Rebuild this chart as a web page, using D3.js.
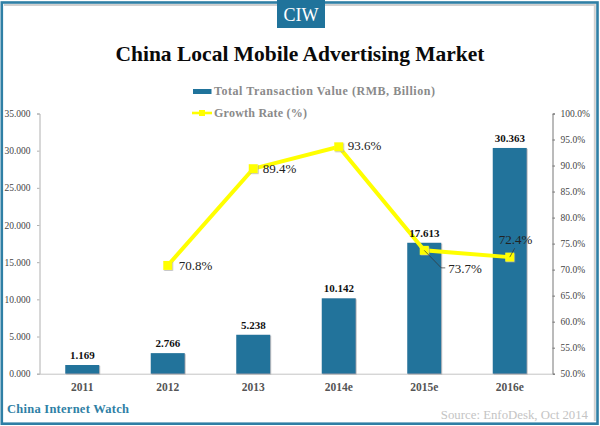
<!DOCTYPE html>
<html>
<head>
<meta charset="utf-8">
<script src="https://cdn.jsdelivr.net/npm/d3@7"></script>
<style>
html, body { margin: 0; padding: 0; background: #fff; }
svg { display: block; }
text { font-family: "Liberation Serif", serif; }
</style>
</head>
<body>
<svg id="chart" width="600" height="426"></svg>
<script>
const years = ['2011', '2012', '2013', '2014e', '2015e', '2016e'];
const transaction = [1.169, 2.766, 5.238, 10.142, 17.613, 30.363];
const growth = [null, 70.8, 89.4, 93.6, 73.7, 72.4];
const leftTicks = [0, 5, 10, 15, 20, 25, 30, 35];
const rightTicks = [50, 55, 60, 65, 70, 75, 80, 85, 90, 95, 100];

const teal = '#20739b';
const yellow = '#ffff00';
const svg = d3.select('#chart');

const x = d3.scaleBand().domain(years).range([39.5, 552.5]);
const yLeft = d3.scaleLinear().domain([0, 35]).range([373.7, 113.5]);
const yRight = d3.scaleLinear().domain([50, 100]).range([373.7, 113.5]);
const cx = d => x(d) + x.bandwidth() / 2;

const shadow = svg.append('defs').append('filter').attr('id', 'shadow')
    .attr('x', '-30%').attr('y', '-30%').attr('width', '160%').attr('height', '160%');
shadow.append('feDropShadow').attr('dx', 0.8).attr('dy', 0.8).attr('stdDeviation', 0.6)
    .attr('flood-color', '#999').attr('flood-opacity', 0.7);

// frame, with the soft grey edge inside top and right
svg.append('path').attr('d', d3.line()([[4, 5], [594.8, 5], [594.8, 421]]))
    .attr('fill', 'none').attr('stroke', '#d0d0d0').attr('stroke-width', 2);
svg.append('rect').attr('x', 1.8).attr('y', 2.5).attr('width', 595.7).attr('height', 421.2)
    .attr('fill', 'none').attr('stroke', '#2f7fa5').attr('stroke-width', 2.6);

// badge
svg.append('rect').attr('x', 277).attr('y', 0).attr('width', 48).attr('height', 28).attr('fill', teal);
svg.append('text').attr('x', 301).attr('y', 21).attr('text-anchor', 'middle')
    .attr('font-size', 18).attr('fill', '#fff').text('CIW');

svg.append('text').attr('x', 300).attr('y', 60.5).attr('text-anchor', 'middle')
    .attr('font-size', 21.5).attr('font-weight', 'bold').attr('fill', '#0a0a0a')
    .text('China Local Mobile Advertising Market');

// legend
svg.append('rect').attr('x', 193).attr('y', 89).attr('width', 18.5).attr('height', 5).attr('fill', teal);
svg.append('text').attr('x', 214).attr('y', 95).attr('font-size', 12).attr('font-weight', 'bold')
    .attr('textLength', 221).attr('fill', '#8a8a8a').text('Total Transaction Value (RMB, Billion)');
svg.append('line').attr('x1', 192).attr('x2', 212).attr('y1', 113).attr('y2', 113)
    .attr('stroke', yellow).attr('stroke-width', 2.6);
svg.append('rect').attr('x', 199).attr('y', 110).attr('width', 6).attr('height', 6).attr('fill', yellow);
svg.append('text').attr('x', 214).attr('y', 117).attr('font-size', 12).attr('font-weight', 'bold')
    .attr('textLength', 93).attr('fill', '#8a8a8a').text('Growth Rate (%)');

// axes
const styleAxis = (g, stroke) => {
    g.selectAll('.domain').attr('stroke', stroke);
    g.selectAll('.tick line').attr('stroke', stroke);
    g.selectAll('text').attr('font-size', 9.5).attr('fill', '#444').attr('font-family', '"Liberation Serif", serif');
};
svg.append('g').attr('transform', 'translate(39.5,0)')
    .call(d3.axisLeft(yLeft).tickValues(leftTicks).tickFormat(d3.format('.3f')).tickSize(2.5).tickPadding(6.5))
    .call(styleAxis, '#b0b0b0');
svg.append('g').attr('transform', 'translate(552.5,0)')
    .call(d3.axisRight(yRight).tickValues(rightTicks).tickFormat(d => d.toFixed(1) + '%').tickSize(2.5).tickPadding(5.5))
    .call(styleAxis, '#777');
const xAxis = svg.append('g').attr('transform', 'translate(0,373.7)')
    .call(d3.axisBottom(x).tickSize(0).tickPadding(9))
    .call(styleAxis, '#c4c4c4');
xAxis.selectAll('text').attr('font-size', 11.5).attr('font-weight', 'bold').attr('fill', '#555');

// bars
svg.selectAll('.bar').data(years).join('rect').attr('class', 'bar')
    .attr('x', d => cx(d) - 17)
    .attr('width', 34)
    .attr('y', (d, i) => yLeft(transaction[i]))
    .attr('height', (d, i) => yLeft(0) - yLeft(transaction[i]))
    .attr('fill', teal)
    .attr('filter', 'url(#shadow)');

// growth line
const points = years.map((d, i) => ({year: d, value: growth[i]})).filter(d => d.value !== null);
const line = d3.line().x(d => cx(d.year)).y(d => yRight(d.value));
svg.append('path').datum(points).attr('d', line).attr('fill', 'none')
    .attr('stroke', yellow).attr('stroke-width', 4);
svg.selectAll('.marker').data(points).join('rect').attr('class', 'marker')
    .attr('x', d => cx(d.year) - 4.5).attr('y', d => yRight(d.value) - 4.5)
    .attr('width', 9).attr('height', 9).attr('fill', yellow)
    .attr('filter', 'url(#shadow)');

// bar labels sit above the line
svg.selectAll('.bar-label').data(years).join('text').attr('class', 'bar-label')
    .attr('x', cx)
    .attr('y', (d, i) => yLeft(transaction[i]) - 6)
    .attr('text-anchor', 'middle').attr('font-size', 11).attr('font-weight', 'bold').attr('fill', '#111')
    .text((d, i) => transaction[i].toFixed(3));

// leader lines for the two labels that were moved off their points
const leaders = {'2015e': [[17, 17.5], [21, 17.5]], '2016e': [[5, -9]]};
points.filter(d => leaders[d.year]).forEach(d => {
    const px = cx(d.year), py = yRight(d.value);
    const path = d3.path();
    path.moveTo(px, py);
    leaders[d.year].forEach(o => path.lineTo(px + o[0], py + o[1]));
    svg.append('path').attr('d', path.toString()).attr('fill', 'none').attr('stroke', '#333').attr('stroke-width', 0.7);
});

const labelOffset = {'2012': [11, 4.5], '2013': [9.5, 4.5], '2014e': [9, 3.5], '2015e': [24, 22.5], '2016e': [-11, -13.5]};
svg.selectAll('.rate-label').data(points).join('text').attr('class', 'rate-label')
    .attr('x', d => cx(d.year) + labelOffset[d.year][0])
    .attr('y', d => yRight(d.value) + labelOffset[d.year][1])
    .attr('font-size', 13).attr('fill', '#222')
    .text(d => d.value.toFixed(1) + '%');

// footer
svg.append('text').attr('x', 7).attr('y', 413).attr('font-size', 12.5).attr('font-weight', 'bold')
    .attr('textLength', 122).attr('fill', '#2f7fa5').text('China Internet Watch');
svg.append('text').attr('x', 588).attr('y', 419).attr('text-anchor', 'end').attr('font-size', 12.8)
    .attr('fill', '#c4c4c4').text('Source: EnfoDesk, Oct 2014');
</script>
</body>
</html>
